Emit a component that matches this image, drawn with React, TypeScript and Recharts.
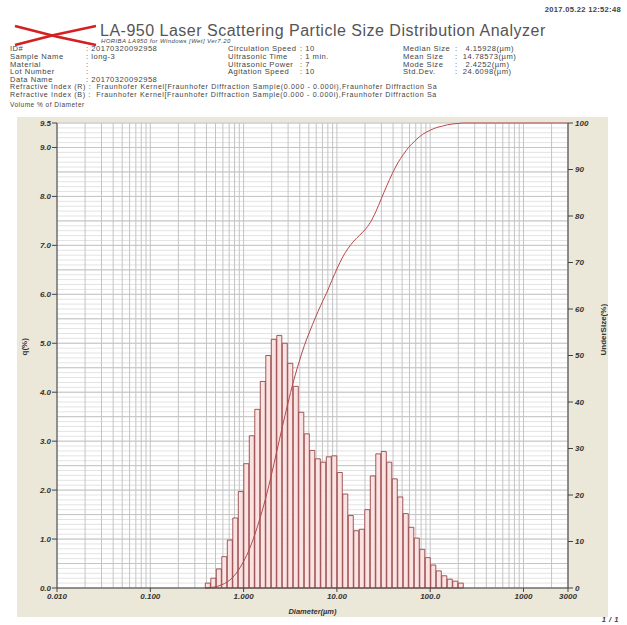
import React from "react";
import { ComposedChart, Bar, Line, XAxis, YAxis, CartesianGrid, Label } from "recharts";

// LA-950 size class edges (µm) covering the measured range
const sizeEdges = [
  0.389, 0.445, 0.51, 0.584, 0.669, 0.766, 0.877, 1.005, 1.151, 1.318, 1.51, 1.729,
  1.981, 2.269, 2.599, 2.976, 3.409, 3.905, 4.472, 5.122, 5.867, 6.72, 7.697, 8.816,
  10.097, 11.565, 13.246, 15.172, 17.377, 19.904, 22.797, 26.111, 29.907, 34.255,
  39.234, 44.938, 51.471, 58.953, 67.523, 77.339, 88.583, 101.46, 116.21, 133.103,
  152.453, 174.616, 200, 229.075,
];

// q(%) per size class
const qValues = [
  0.1, 0.2, 0.39, 0.64, 0.98, 1.43, 1.97, 2.54, 3.11, 3.65, 4.22, 4.75, 5.08, 5.16,
  5.0, 4.59, 4.12, 3.59, 3.15, 2.81, 2.64, 2.57, 2.68, 2.7, 2.36, 1.92, 1.48, 1.17,
  1.2, 1.6, 2.29, 2.74, 2.79, 2.57, 2.23, 1.86, 1.52, 1.24, 1.02, 0.79, 0.62, 0.47,
  0.35, 0.25, 0.18, 0.14, 0.1,
];

// undersize (%) at each class edge
const underSize = [
  0, 0.1, 0.3, 0.7, 1.3, 2.3, 3.8, 5.8, 8.3, 11.5, 15.2, 19.4, 24.2, 29.4, 34.6,
  39.6, 44.3, 48.4, 52.1, 55.2, 58.1, 60.8, 63.3, 66.1, 68.8, 71.2, 73.1, 74.6,
  75.8, 77.0, 78.6, 80.9, 83.7, 86.5, 89.1, 91.4, 93.2, 94.8, 96.0, 97.1, 97.9,
  98.5, 99.0, 99.3, 99.6, 99.8, 99.9, 100,
];
const tailSizes = [500, 1000, 3000];
const tailUnder = [100, 100, 100];

const xTicks = [0.01, 0.1, 1, 10, 100, 1000, 3000];
const xTickLabels = ["0.010", "0.100", "1.000", "10.00", "100.0", "1000", "3000"];
const qTicks = [0, 1, 2, 3, 4, 5, 6, 7, 8, 9, 9.5];
const uTicks = [0, 10, 20, 30, 40, 50, 60, 70, 80, 90, 100];

const binData = qValues.map((q, i) => ({
  x: Math.sqrt(sizeEdges[i] * sizeEdges[i + 1]),
  q,
}));
const cumData = [
  ...sizeEdges.map((x, i) => ({ x, u: underSize[i] })),
  ...tailSizes.map((x, i) => ({ x, u: tailUnder[i] })),
];

// grid / minor tick positions
const xGrid: number[] = [];
[0.01, 0.1, 1, 10, 100, 1000].forEach((d) => {
  for (let m = 1; m <= 9; m++) if (d * m <= 3000) xGrid.push(d * m);
});
xGrid.push(3000);
const qMinor: number[] = [];
for (let i = 0; i <= 95; i++) qMinor.push(i / 10);
const qHalf: number[] = [];
for (let i = 0; i <= 19; i++) qHalf.push(i / 2);
const uMinor: number[] = [];
for (let i = 0; i <= 50; i++) uMinor.push(i * 2);

const font = '"Liberation Sans", Arial, sans-serif';
const tickStyle = { fontSize: 8, fontWeight: "bold", fontStyle: "italic", fill: "#333", fontFamily: font };
const info: React.CSSProperties = {
  position: "absolute",
  fontSize: 7.6,
  letterSpacing: 0.5,
  color: "#444",
  fontFamily: font,
  whiteSpace: "pre",
  lineHeight: "8px",
};

function Header() {
  const rows1 = [
    ["ID#", ": 20170320092958"],
    ["Sample Name", ": long-3"],
    ["Material", ":"],
    ["Lot Number", ":"],
    ["Data Name", ": 20170320092958"],
  ];
  const rows2 = [
    ["Circulation Speed", ": 10"],
    ["Ultrasonic Time", ": 1 min."],
    ["Ultrasonic Power", ": 7"],
    ["Agitation Speed", ": 10"],
  ];
  const rows3 = [
    ["Median Size", ":   4.15928(µm)"],
    ["Mean Size", ":  14.78573(µm)"],
    ["Mode Size", ":   2.4252(µm)"],
    ["Std.Dev.", ":  24.6098(µm)"],
  ];
  return (
    <>
      <div style={{ ...info, right: 6, top: 6, fontWeight: "bold", letterSpacing: 0.3 }}>2017.05.22 12:52:48</div>
      <svg style={{ position: "absolute", left: 12, top: 22 }} width={86} height={26}>
        <path d="M3 4 Q43 15 84 23" stroke="#d42020" strokeWidth={2.5} fill="none" />
        <path d="M3 23 Q43 12 84 4" stroke="#d42020" strokeWidth={2.5} fill="none" />
      </svg>
      <div style={{ ...info, left: 100, top: 23, fontSize: 16, lineHeight: "16px", letterSpacing: 0.5, color: "#555" }}>
        LA-950 Laser Scattering Particle Size Distribution Analyzer
      </div>
      <div style={{ ...info, left: 101, top: 38, fontSize: 6, lineHeight: "6px", letterSpacing: 0.4, fontStyle: "italic" }}>
        HORIBA LA950 for Windows [Wet] Ver7.20
      </div>
      {rows1.map((r, i) => (
        <React.Fragment key={"a" + i}>
          <div style={{ ...info, left: 10, top: 45 + i * 7.8 }}>{r[0]}</div>
          <div style={{ ...info, left: 86, top: 45 + i * 7.8 }}>{r[1]}</div>
        </React.Fragment>
      ))}
      {rows2.map((r, i) => (
        <React.Fragment key={"b" + i}>
          <div style={{ ...info, left: 228, top: 45 + i * 7.8 }}>{r[0]}</div>
          <div style={{ ...info, left: 300, top: 45 + i * 7.8 }}>{r[1]}</div>
        </React.Fragment>
      ))}
      {rows3.map((r, i) => (
        <React.Fragment key={"c" + i}>
          <div style={{ ...info, left: 403, top: 45 + i * 7.8 }}>{r[0]}</div>
          <div style={{ ...info, left: 455, top: 45 + i * 7.8 }}>{r[1]}</div>
        </React.Fragment>
      ))}
      <div style={{ ...info, left: 10, top: 84, lineHeight: "7px", fontSize: 7.1, letterSpacing: 0.65 }}>
        Refractive Index (R) :  Fraunhofer Kernel[Fraunhofer Diffraction Sample(0.000 - 0.000i),Fraunhofer Diffraction Sa
      </div>
      <div style={{ ...info, left: 10, top: 92, lineHeight: "7px", fontSize: 7.1, letterSpacing: 0.65 }}>
        Refractive Index (B) :  Fraunhofer Kernel[Fraunhofer Diffraction Sample(0.000 - 0.000i),Fraunhofer Diffraction Sa
      </div>
      <div style={{ ...info, left: 10, top: 101, fontSize: 6.5, lineHeight: "7px" }}>Volume % of Diameter</div>
      <div style={{ ...info, right: 8, bottom: 1, fontWeight: "bold", fontStyle: "italic" }}>1 / 1</div>
    </>
  );
}

export default function App() {
  return (
    <div style={{ position: "absolute", left: 0, top: 0, width: 627, height: 625, background: "#fff" }}>
      <Header />
      <div style={{ position: "absolute", left: 17, top: 117, background: "#ebe8da" }}>
        <ComposedChart
          width={591}
          height={500}
          data={binData}
          margin={{ top: 6, right: 0, bottom: 0, left: 0 }}
          barCategoryGap={0}
          barGap={0}
        >
          <CartesianGrid xAxisId="d" yAxisId="q" fill="#ffffff" stroke="#e3e3e3" vertical={false} horizontalValues={qMinor} />
          <CartesianGrid xAxisId="d" yAxisId="q" stroke="#c4c4c4" horizontalValues={qHalf} verticalValues={xGrid} />
          <XAxis
            xAxisId="d"
            dataKey="x"
            type="number"
            scale="log"
            domain={[0.01, 3000]}
            allowDataOverflow
            ticks={xTicks}
            interval={0}
            tickFormatter={(v: number) => xTickLabels[xTicks.indexOf(v)] ?? ""}
            height={29}
            tick={tickStyle}
            tickSize={4}
            tickMargin={1}
            axisLine={{ stroke: "#444" }}
            tickLine={{ stroke: "#444" }}
          >
            <Label
              value="Diameter(µm)"
              position="insideBottom"
              offset={3}
              style={{ fontSize: 7.5, fontWeight: "bold", fontStyle: "italic", fill: "#333", fontFamily: font }}
            />
          </XAxis>
          <XAxis xAxisId="c" dataKey="x" type="number" scale="log" domain={[0.01, 3000]} allowDataOverflow hide height={0} />
          <YAxis
            yAxisId="qMinor"
            orientation="left"
            width={0}
            domain={[0, 9.5]}
            ticks={qMinor}
            interval={0}
            tick={false}
            tickSize={2}
            axisLine={false}
            tickLine={{ stroke: "#666" }}
          />
          <YAxis
            yAxisId="q"
            orientation="left"
            width={40}
            domain={[0, 9.5]}
            ticks={qTicks}
            interval={0}
            tickFormatter={(v: number) => v.toFixed(1)}
            tick={tickStyle}
            tickSize={5}
            tickMargin={1}
            axisLine={{ stroke: "#444" }}
            tickLine={{ stroke: "#444" }}
          >
            <Label
              value="q(%)"
              angle={-90}
              position="insideLeft"
              offset={7}
              style={{ fontSize: 8, fontWeight: "bold", fill: "#333", fontFamily: font }}
            />
          </YAxis>
          <YAxis
            yAxisId="uMinor"
            orientation="right"
            width={0}
            domain={[0, 100]}
            ticks={uMinor}
            interval={0}
            tick={false}
            tickSize={2}
            axisLine={false}
            tickLine={{ stroke: "#666" }}
          />
          <YAxis
            yAxisId="u"
            orientation="right"
            width={40}
            domain={[0, 100]}
            ticks={uTicks}
            interval={0}
            tick={tickStyle}
            tickSize={5}
            tickMargin={2}
            axisLine={{ stroke: "#444" }}
            tickLine={{ stroke: "#444" }}
          >
            <Label
              value="UnderSize(%)"
              angle={-90}
              position="insideLeft"
              offset={35}
              style={{ fontSize: 8, fontWeight: "bold", fill: "#333", fontFamily: font }}
            />
          </YAxis>
          <Bar
            xAxisId="d"
            yAxisId="q"
            dataKey="q"
            fill="#fbe3e3"
            stroke="#8a3232"
            strokeWidth={0.8}
            isAnimationActive={false}
          />
          <Line
            xAxisId="c"
            yAxisId="u"
            data={cumData}
            dataKey="u"
            type="monotone"
            dot={false}
            stroke="#b84848"
            strokeWidth={1}
            isAnimationActive={false}
          />
        </ComposedChart>
      </div>
    </div>
  );
}
